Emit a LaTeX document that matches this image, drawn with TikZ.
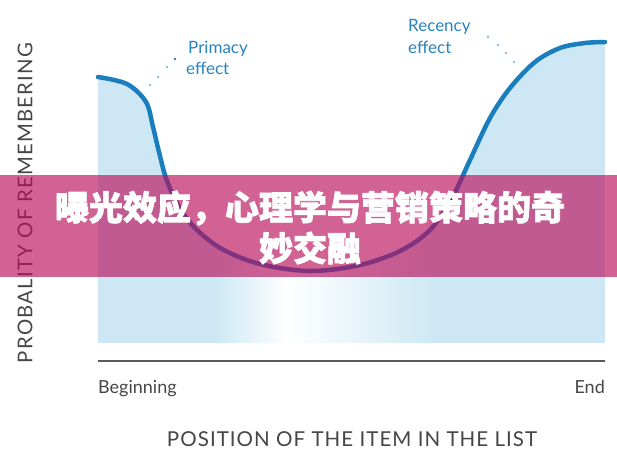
\documentclass[tikz,border=0pt]{standalone}
\usepackage{fontspec}
\setmainfont{Lato}
\newfontfamily\cjk{Noto Sans CJK SC}[BoldFeatures={FakeBold=2}]
\definecolor{curveblue}{RGB}{25,125,190}
\definecolor{labelblue}{RGB}{40,130,190}
\definecolor{lightfill}{RGB}{205,232,244}
\definecolor{graytext}{RGB}{70,70,70}
\definecolor{axisgray}{RGB}{90,90,90}
\definecolor{bannerpink}{RGB}{186,14,91}
\tikzset{
  curvestyle/.style={draw=curveblue, line width=4.5pt, line cap=round, line join=round},
  effectlabel/.style={text=labelblue, font=\fontsize{17}{20}\selectfont, inner sep=0pt, anchor=base west},
  endlabel/.style={text=graytext, font=\fontsize{18}{21}\selectfont, inner sep=0pt},
  leaderdot/.style={fill=curveblue},
}
\begin{document}
\begin{tikzpicture}[x=1pt,y=-1pt]
\useasboundingbox (0,0) rectangle (617,452);
% fill under the curve with a horizontal fade
\def\curvepath{plot[smooth, tension=0.55] coordinates {(98,77) (127,84) (146,102) (153,127) (159,152) (166,178) (178,205) (195,228) (222,249) (260,264) (310,271) (360,265) (400,251) (430,230) (452,198) (470,160) (490,118) (510,88) (535,62) (560,48) (585,43) (605,42)}}
\begin{scope}
  \clip \curvepath -- (605,343) -- (98,343) -- cycle;
  \fill[lightfill] (98,0) rectangle (605,343);
  \shade[left color=lightfill, right color=white] (215,0) rectangle (288,343);
  \shade[left color=white, right color=lightfill] (287,0) rectangle (435,343);
\end{scope}
\draw[curvestyle] \curvepath;
% leader dots
\fill[leaderdot] (150,85) circle (0.8);
\fill[leaderdot] (158,77) circle (0.8);
\fill[leaderdot] (167,67) circle (0.9);
\fill[leaderdot] (175,59) circle (1.3);
\fill[leaderdot] (488,37) circle (0.8);
\fill[leaderdot] (498,45) circle (0.8);
\fill[leaderdot] (506,53) circle (0.8);
\fill[leaderdot] (514,62) circle (0.9);
% effect labels
\node[effectlabel] (prim1) at (188,53) {Primacy};
\node[effectlabel] (prim2) at (186,74) {effect};
\node[effectlabel] (rec1) at (408,32) {Recency};
\node[effectlabel] (rec2) at (408,53) {effect};
% axis
\coordinate (axl) at (98,361);
\coordinate (axr) at (605,361);
\draw[axisgray, line width=1.3pt] (axl) -- (axr);
\node[endlabel, anchor=base west] (beg) at (98,393) {Beginning};
\node[endlabel, anchor=base east] (endl) at (605,393) {End};
\node[text=graytext, inner sep=0pt, anchor=base] (xlab) at (352,446) {\resizebox{370pt}{!}{\addfontfeatures{LetterSpace=5}POSITION OF THE ITEM IN THE LIST}};
\node[text=graytext, inner sep=0pt, rotate=90] (ylab) at (25,203) {\resizebox{320pt}{!}{\addfontfeatures{LetterSpace=6}PROBALITY OF REMEMBERING}};
% banner
\fill[bannerpink, fill opacity=0.65] (0,175) rectangle (617,277);
\node[align=center, text=white, inner sep=0pt, font=\cjk\bfseries\fontsize{34}{41}\selectfont] (title) at (310,227.5) {曝光效应，心理学与营销策略的奇\\妙交融};
\end{tikzpicture}
\end{document}
